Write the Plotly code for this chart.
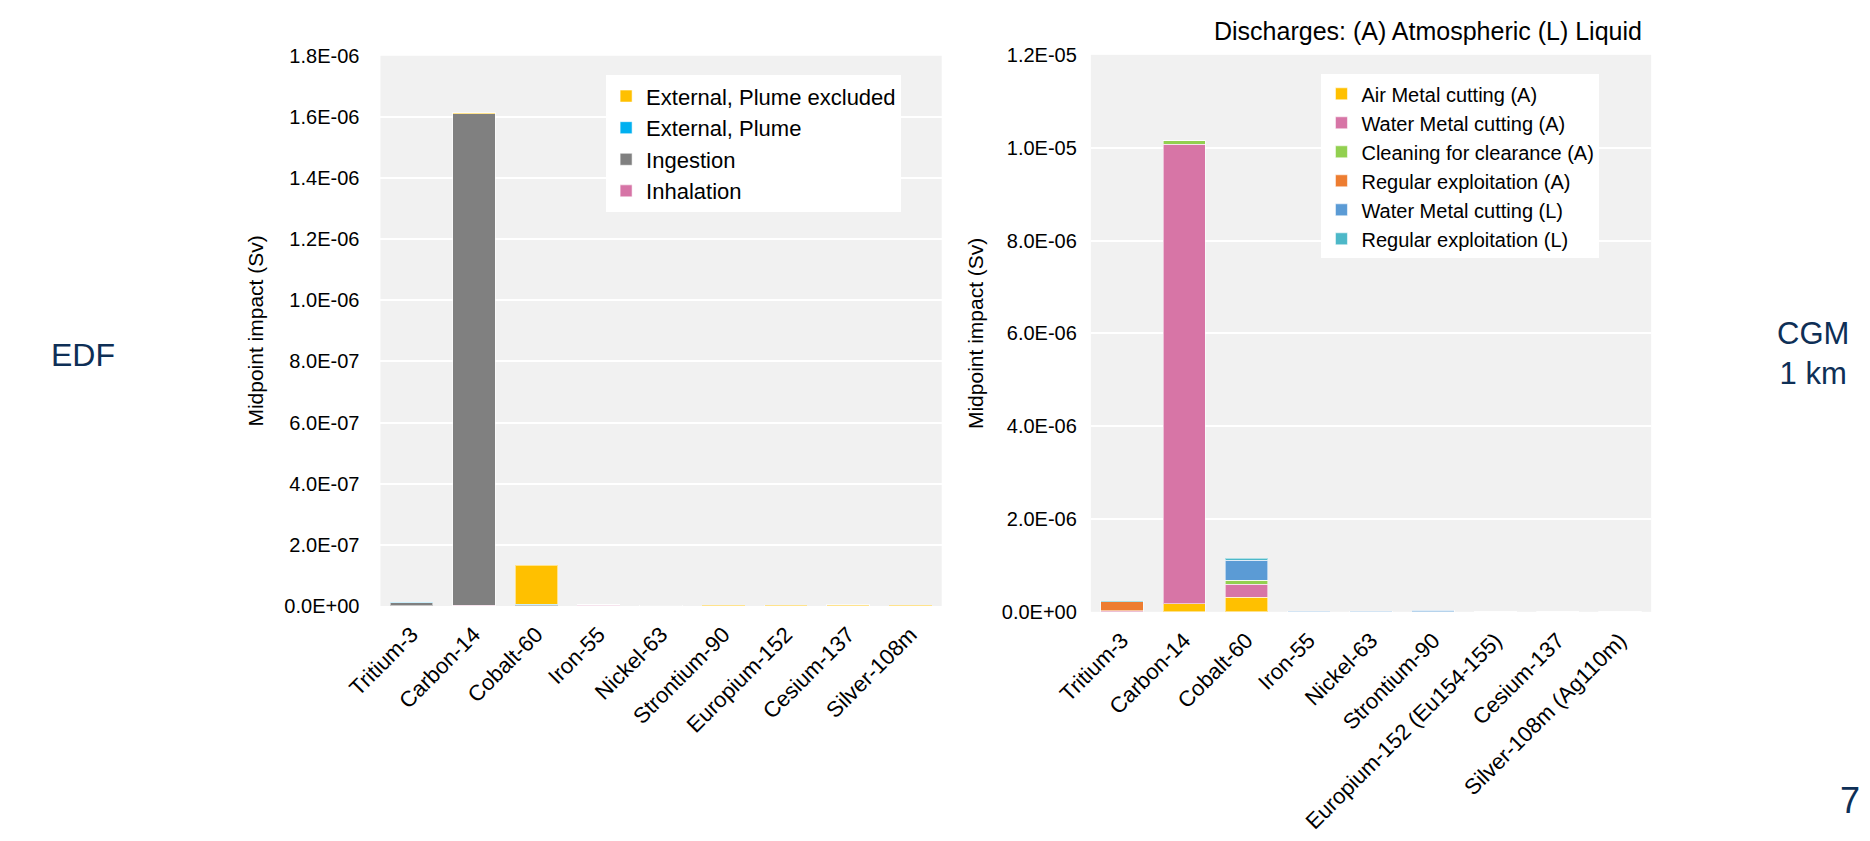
import plotly.graph_objects as go

# ---------------- data ----------------
nuclides_edf = ["Tritium-3", "Carbon-14", "Cobalt-60", "Iron-55", "Nickel-63",
                "Strontium-90", "Europium-152", "Cesium-137", "Silver-108m"]
nuclides_cgm = ["Tritium-3", "Carbon-14", "Cobalt-60", "Iron-55", "Nickel-63",
                "Strontium-90", "Europium-152 (Eu154-155)", "Cesium-137",
                "Silver-108m (Ag110m)"]

# EDF pathway contributions (Sv), stacked bottom-up
inhalation = [1.0e-9, 2.0e-9, 1.0e-9, 2.0e-9, 1.5e-9, 0.0, 0.0, 0.0, 0.0]
ingestion = [1.0e-8, 1.608e-6, 3.0e-9, 1.5e-9, 1.5e-9, 1.5e-9, 0.0, 1.5e-9, 0.0]
external_plume = [1.5e-9, 0.0, 1.0e-9, 0.0, 0.0, 0.0, 0.0, 0.0, 0.0]
external_plume_excluded = [0.0, 4.0e-9, 1.28e-7, 0.0, 0.0, 1.5e-9, 2.0e-9, 2.0e-9, 3.0e-9]

# CGM 1 km discharge contributions (Sv), stacked bottom-up
air_metal_cutting_a = [0.0, 1.7e-7, 3.1e-7, 0.0, 0.0, 0.0, 3.0e-9, 2.5e-9, 2.5e-9]
water_metal_cutting_a = [2.5e-8, 9.9e-6, 2.8e-7, 5.0e-9, 4.0e-9, 0.0, 0.0, 0.0, 0.0]
cleaning_clearance_a = [0.0, 8.0e-8, 9.0e-8, 0.0, 0.0, 0.0, 0.0, 0.0, 0.0]
regular_exploitation_a = [1.9e-7, 0.0, 0.0, 0.0, 0.0, 5.0e-9, 3.0e-9, 3.0e-9, 3.0e-9]
water_metal_cutting_l = [0.0, 0.0, 4.3e-7, 1.0e-8, 1.0e-8, 2.5e-8, 0.0, 0.0, 0.0]
regular_exploitation_l = [1.5e-8, 0.0, 4.0e-8, 0.0, 0.0, 0.0, 0.0, 0.0, 0.0]

edf_ticks = [i * 0.2e-6 for i in range(10)]
cgm_ticks = [i * 2.0e-6 for i in range(7)]

FONT = "Liberation Sans, Arial, sans-serif"
NAVY = "#0E2F56"
EDGE = dict(color="rgba(255,255,255,0.55)", width=1)

fig = go.Figure()

edf_series = [
    ("Inhalation", inhalation, "#D674A6"),
    ("Ingestion", ingestion, "#808080"),
    ("External, Plume", external_plume, "#00B0F0"),
    ("External, Plume excluded", external_plume_excluded, "#FFC000"),
]
for name, vals, col in edf_series:
    fig.add_trace(go.Bar(x=nuclides_edf, y=vals, name=name, marker_color=col,
                         marker_line=EDGE, xaxis="x", yaxis="y", legend="legend"))

cgm_series = [
    ("Air Metal cutting (A)", air_metal_cutting_a, "#FFC000"),
    ("Water Metal cutting (A)", water_metal_cutting_a, "#D775A6"),
    ("Cleaning for clearance (A)", cleaning_clearance_a, "#92D050"),
    ("Regular exploitation (A)", regular_exploitation_a, "#ED7D31"),
    ("Water Metal cutting (L)", water_metal_cutting_l, "#5B9BD5"),
    ("Regular exploitation (L)", regular_exploitation_l, "#4DB8C8"),
]
for name, vals, col in cgm_series:
    fig.add_trace(go.Bar(x=nuclides_cgm, y=vals, name=name, marker_color=col,
                         marker_line=EDGE, xaxis="x2", yaxis="y2", legend="legend2"))

W, H = 1870, 841


def px_x(p):
    return p / W


def px_y(p):
    return 1 - p / H


ytick_font = dict(family=FONT, size=20, color="#000000")
xtick_font = dict(family=FONT, size=22, color="#000000")
title_font = dict(family=FONT, size=21, color="#000000")

fig.update_layout(
    width=W, height=H,
    margin=dict(l=0, r=0, t=0, b=0),
    paper_bgcolor="white",
    plot_bgcolor="#F1F1F1",
    barmode="stack",
    bargap=0.32,
    font=dict(family=FONT, color="#000000"),
    xaxis=dict(domain=[px_x(352), px_x(924)], anchor="y", tickangle=-45,
               showgrid=False, showline=False, zeroline=False,
               ticks="outside", ticklen=6, tickcolor="rgba(0,0,0,0)",
               tickfont=xtick_font),
    yaxis=dict(domain=[px_y(611), px_y(46)], anchor="x", range=[0, 1.8e-6],
               tickvals=edf_ticks, ticktext=[f"{v:.1E}" for v in edf_ticks],
               showgrid=True, gridcolor="white", gridwidth=2,
               showline=False, zeroline=False,
               ticks="outside", ticklen=16, tickcolor="rgba(0,0,0,0)",
               tickfont=ytick_font,
               title=dict(text="Midpoint impact (Sv)", standoff=14, font=title_font)),
    xaxis2=dict(domain=[px_x(1076), px_x(1647)], anchor="y2", tickangle=-45,
                showgrid=False, showline=False, zeroline=False,
                ticks="outside", ticklen=6, tickcolor="rgba(0,0,0,0)",
                tickfont=xtick_font),
    yaxis2=dict(domain=[px_y(617), px_y(45)], anchor="x2", range=[0, 1.2e-5],
                tickvals=cgm_ticks, ticktext=[f"{v:.1E}" for v in cgm_ticks],
                showgrid=True, gridcolor="white", gridwidth=2,
                showline=False, zeroline=False,
                ticks="outside", ticklen=9, tickcolor="rgba(0,0,0,0)",
                tickfont=ytick_font,
                title=dict(text="Midpoint impact (Sv)", standoff=12, font=title_font)),
    legend=dict(x=px_x(582), y=px_y(66), xanchor="left", yanchor="top",
                bgcolor="white", traceorder="reversed",
                font=dict(family=FONT, size=22, color="#000000")),
    legend2=dict(x=px_x(1311), y=px_y(65), xanchor="left", yanchor="top",
                 bgcolor="white", traceorder="normal",
                 font=dict(family=FONT, size=20, color="#000000")),
    annotations=[
        dict(text="Discharges: (A) Atmospheric (L) Liquid", xref="paper", yref="paper",
             x=px_x(1640), y=px_y(21), xanchor="right", yanchor="middle",
             showarrow=False, font=dict(family=FONT, size=25, color="#000000")),
        dict(text="EDF", xref="paper", yref="paper", x=px_x(14), y=px_y(353),
             xanchor="left", yanchor="middle", showarrow=False,
             font=dict(family=FONT, size=32, color=NAVY)),
        dict(text="CGM<br>1 km", xref="paper", yref="paper", x=px_x(1812), y=px_y(352),
             xanchor="center", yanchor="middle", align="center", showarrow=False,
             font=dict(family=FONT, size=31, color=NAVY)),
        dict(text="7", xref="paper", yref="paper", x=px_x(1862), y=px_y(811),
             xanchor="right", yanchor="middle", showarrow=False,
             font=dict(family=FONT, size=36, color=NAVY)),
    ],
)

fig.write_html("out.html")
